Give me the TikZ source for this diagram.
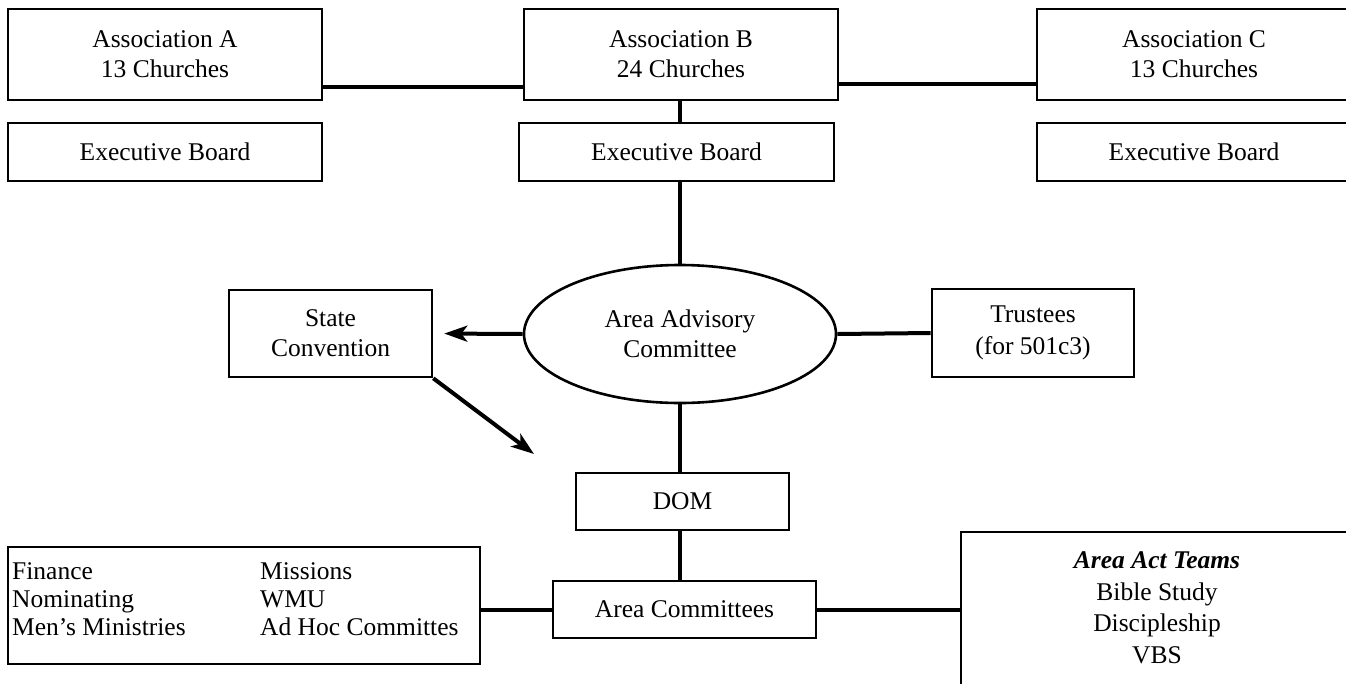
\documentclass[tikz,border=0pt]{standalone}
\usepackage{fontspec}
\setmainfont{Liberation Serif}
\usetikzlibrary{shapes.geometric,arrows.meta}

\tikzset{
  txt/.style={font=\fontsize{25.5pt}{30pt}\selectfont},
  box/.style={draw, line width=2.6pt, rectangle, inner sep=0pt, align=center, txt},
  link/.style={line width=4pt},
  pointer/.style={line width=4pt, -{Stealth[length=23pt,width=16pt,inset=6pt]}},
}

\begin{document}
\begin{tikzpicture}[x=1pt, y=-1pt]
  % canvas: 1346 x 683, y grows downwards
  \fill[white] (0,0) rectangle (1346,683);
  \useasboundingbox (0,0) rectangle (1346,683);
  \clip (0,0) rectangle (1346,683);

  % the three associations and their boards
  \node[box, minimum width=314pt, minimum height=91pt] (assocA) at (165,54.5) {Association A\\13 Churches};
  \node[box, minimum width=314pt, minimum height=91pt] (assocB) at (681,54.5) {Association B\\24 Churches};
  \node[box, minimum width=314pt, minimum height=91pt] (assocC) at (1194,54.5) {Association C\\13 Churches};

  \node[box, minimum width=314pt, minimum height=58pt] (execA) at (165,152) {Executive Board};
  \node[box, minimum width=315pt, minimum height=58pt] (execB) at (676.5,152) {Executive Board};
  \node[box, minimum width=314pt, minimum height=58pt] (execC) at (1194,152) {Executive Board};

  % advisory level
  \node[ellipse, draw, line width=2.6pt, inner sep=0pt, minimum width=312pt, minimum height=138pt, align=center, txt] (adv) at (680,334) {Area Advisory\\Committee};
  \node[box, minimum width=203pt, minimum height=87pt] (state) at (330.5,333.5) {State\\Convention};
  \node[box, minimum width=202pt, minimum height=88pt, font=\fontsize{25.5pt}{32pt}\selectfont] (trust) at (1033,333) {Trustees\\(for 501c3)};

  % staff and committees
  \node[box, minimum width=213pt, minimum height=57pt] (dom) at (682.5,501.5) {DOM};
  \node[box, minimum width=263pt, minimum height=57pt] (comm) at (684.5,609.5) {Area Committees};

  \node[box, minimum width=472pt, minimum height=117pt] (list) at (244,605.5) {};
  \node[anchor=west, inner sep=0pt, font=\fontsize{25.5pt}{28pt}\selectfont] (listtext) at (12,602)
    {\begin{tabular}{@{}p{248pt}@{}l@{}}
      Finance & Missions\\
      Nominating & WMU\\
      Men’s Ministries & Ad Hoc Committes
    \end{tabular}};

  \node[box, minimum width=392pt, minimum height=162pt] (teams) at (1157,613) {};
  \node[align=center, inner sep=0pt, font=\fontsize{25.5pt}{31.5pt}\selectfont] (teamstext) at (1157,608)
    {\textbf{\textit{Area Act Teams}}\\Bible Study\\Discipleship\\VBS};

  \coordinate (drift) at (534,454);

  % connectors
  \draw[link] ([yshift=-32.5pt]assocA.east) -- ([yshift=-32.5pt]assocB.west);
  \draw[link] ([yshift=-29.5pt]assocB.east) -- ([yshift=-29.5pt]assocC.west);
  \draw[link] ([xshift=-1pt]assocB.south) -- ([xshift=-1pt]assocB.south |- execB.north);
  \draw[link] (adv.north |- execB.south) -- (adv.north);
  \draw[pointer, shorten >=11pt] (adv.west) -- (state.east);
  \draw[link] (adv.east) -- (trust.west);
  \draw[pointer] (state.south east) -- (drift);
  \draw[link] (adv.south) -- (adv.south |- dom.north);
  \draw[link] (adv.south |- dom.south) -- (adv.south |- comm.north);
  \draw[link] (list.east |- comm.west) -- (comm.west);
  \draw[link] (comm.east) -- (comm.east -| teams.west);
\end{tikzpicture}
\end{document}
